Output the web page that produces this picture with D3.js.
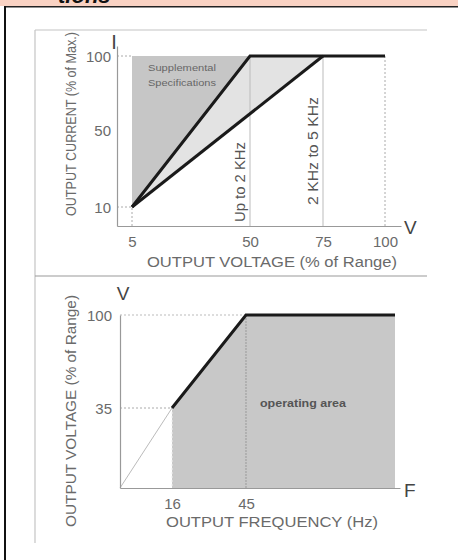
<!DOCTYPE html>
<html>
<head>
<meta charset="utf-8">
<script src="https://cdn.jsdelivr.net/npm/d3@7"></script>
<style>
  html, body { margin: 0; padding: 0; background: #fff; }
  svg { display: block; }
  text { font-family: "Liberation Sans", Arial, sans-serif; }
</style>
</head>
<body>
<div id="chart"></div>
<script>
// top chart: output current vs output voltage
const topTicksX = [5, 50, 75, 100];
const topTicksY = [10, 50, 100];
const supplementalArea = [[5, 10], [5, 100], [50, 100]];
const band2to5k = [[5, 10], [50, 100], [75, 100]];
const limitUpTo2k = [[5, 10], [50, 100], [100, 100]];
const limit2to5k = [[5, 10], [75, 100]];

// bottom chart: output voltage vs output frequency
const botTicksX = [16, 45];
const botTicksY = [35, 100];
const operatingArea = [[16, 0], [16, 35], [45, 100], [100, 100], [100, 0]];
const operatingEdge = [[16, 35], [45, 100], [100, 100]];
const belowMinLine = [[0, 0], [16, 35]];

const W = 458, H = 560;
const svg = d3.select('#chart').append('svg')
  .attr('xmlns', 'http://www.w3.org/2000/svg')
  .attr('width', W)
  .attr('height', H);

svg.append('rect').attr('width', W).attr('height', H).attr('fill', '#fff');

// page decoration: pink header strip, cut-off heading, borders
svg.append('rect').attr('x', 0).attr('y', 0).attr('width', W).attr('height', 6).attr('fill', '#f9d2c3');
svg.append('text').attr('x', 58).attr('y', 3)
  .attr('font-size', 22).attr('font-style', 'italic').attr('font-weight', 'bold')
  .attr('fill', '#111').text('tions');
svg.append('rect').attr('x', 4).attr('y', 6).attr('width', W - 4).attr('height', 1.5).attr('fill', '#222');
svg.append('rect').attr('x', 4).attr('y', 6).attr('width', 2).attr('height', H - 6).attr('fill', '#111');

// gray frame of the figure
const frame = svg.append('g').attr('stroke', '#c4c4c4').attr('stroke-width', 1.2).attr('fill', 'none');
frame.append('line').attr('x1', 35).attr('x2', 427).attr('y1', 30).attr('y2', 30);
frame.append('line').attr('x1', 35).attr('x2', 35).attr('y1', 30).attr('y2', 543);
frame.append('line').attr('x1', 35).attr('x2', 427).attr('y1', 276).attr('y2', 276).attr('stroke', '#999');

const textGray = '#6a6a6a';

// ---------- top chart ----------
const x1 = d3.scaleLinear().domain([0, 5, 50, 75, 100, 106]).range([117, 132, 250, 323, 385, 401]);
const y1 = d3.scaleLinear().domain([0, 10, 50, 100, 107]).range([226, 207, 130, 56, 46]);
const line1 = d3.line().x(d => x1(d[0])).y(d => y1(d[1]));

const g1 = svg.append('g');

g1.append('path').attr('d', line1(supplementalArea) + 'Z').attr('fill', '#c6c6c6');
g1.append('path').attr('d', line1(band2to5k) + 'Z').attr('fill', '#e3e3e3');

// guide lines
const guides1 = g1.append('g').attr('fill', 'none');
guides1.append('path').attr('d', line1([[0, 10], [5, 10], [5, 0]]))
  .attr('stroke', '#aaa').attr('stroke-dasharray', '2,2');
guides1.append('path').attr('d', line1([[0, 100], [5, 100]]))
  .attr('stroke', '#aaa').attr('stroke-dasharray', '2,2');
guides1.append('path').attr('d', line1([[100, 100], [100, 0]]))
  .attr('stroke', '#aaa').attr('stroke-dasharray', '2,2');
[50, 75].forEach(v => {
  guides1.append('path').attr('d', line1([[v, 100], [v, 0]])).attr('stroke', '#bbb');
});

// axes
const ax1 = g1.append('g').attr('transform', `translate(0,${y1(0)})`)
  .call(d3.axisBottom(x1).tickValues(topTicksX).tickSize(0).tickPadding(10).tickSizeOuter(0));
const ay1 = g1.append('g').attr('transform', `translate(${x1(0)},0)`)
  .call(d3.axisLeft(y1).tickValues(topTicksY).tickSize(0).tickPadding(6).tickSizeOuter(0));
[ax1, ay1].forEach(a => {
  a.select('.domain').attr('stroke', '#999').attr('stroke-width', 1.2);
  a.selectAll('text').attr('font-size', 15).attr('fill', textGray)
    .attr('font-family', '"Liberation Sans", Arial, sans-serif');
});
ax1.selectAll('text').attr('dy', '0.71em');
ay1.selectAll('text').attr('dy', '0.35em');

// limit lines
g1.append('path').attr('d', line1(limitUpTo2k)).attr('fill', 'none')
  .attr('stroke', '#1a1a1a').attr('stroke-width', 3);
g1.append('path').attr('d', line1(limit2to5k)).attr('fill', 'none')
  .attr('stroke', '#1a1a1a').attr('stroke-width', 3);

// annotations
g1.append('text').attr('x', 148).attr('y', 71).attr('font-size', 9).attr('fill', '#666')
  .attr('textLength', 68).attr('lengthAdjust', 'spacingAndGlyphs').text('Supplemental');
g1.append('text').attr('x', 148).attr('y', 86).attr('font-size', 9).attr('fill', '#666')
  .attr('textLength', 68).attr('lengthAdjust', 'spacingAndGlyphs').text('Specifications');
g1.append('text').attr('transform', `translate(${x1(50) - 5},${y1(0) - 4}) rotate(-90)`)
  .attr('font-size', 14).attr('fill', '#555')
  .attr('textLength', 80).attr('lengthAdjust', 'spacingAndGlyphs').text('Up to 2 KHz');
g1.append('text').attr('transform', `translate(${x1(75) - 5},${y1(0) - 21}) rotate(-90)`)
  .attr('font-size', 14).attr('fill', '#555')
  .attr('textLength', 108).attr('lengthAdjust', 'spacingAndGlyphs').text('2 KHz to 5 KHz');

g1.append('text').attr('x', 272).attr('y', 267).attr('text-anchor', 'middle')
  .attr('font-size', 14).attr('fill', textGray)
  .attr('textLength', 250).attr('lengthAdjust', 'spacingAndGlyphs').text('OUTPUT VOLTAGE (% of Range)');
g1.append('text').attr('transform', 'translate(76,124) rotate(-90)').attr('text-anchor', 'middle')
  .attr('font-size', 14).attr('fill', textGray)
  .attr('textLength', 184).attr('lengthAdjust', 'spacingAndGlyphs').text('OUTPUT CURRENT (% of Max.)');

g1.append('text').attr('x', 114).attr('y', 49).attr('text-anchor', 'middle')
  .attr('font-family', '"Liberation Serif", serif').attr('font-size', 20).attr('fill', '#444').text('I');
g1.append('text').attr('x', 404).attr('y', 234)
  .attr('font-size', 19).attr('fill', '#444').text('V');

// ---------- bottom chart ----------
const x2 = d3.scaleLinear().domain([0, 16, 45, 100, 104]).range([120, 172, 246, 395, 400]);
const y2 = d3.scaleLinear().domain([0, 35, 100]).range([488, 408, 315]);
const line2 = d3.line().x(d => x2(d[0])).y(d => y2(d[1]));

const g2 = svg.append('g');

g2.append('path').attr('d', line2(operatingArea) + 'Z').attr('fill', '#c8c8c8');

const guides2 = g2.append('g').attr('fill', 'none');
guides2.append('path').attr('d', line2([[0, 35], [16, 35]]))
  .attr('stroke', '#aaa').attr('stroke-dasharray', '2,2');
guides2.append('path').attr('d', line2([[0, 100], [45, 100]]))
  .attr('stroke', '#bbb').attr('stroke-dasharray', '2,2');
guides2.append('path').attr('d', line2([[16, 35], [16, 0]]))
  .attr('stroke', '#eee').attr('stroke-dasharray', '2,2');
guides2.append('path').attr('d', line2([[45, 100], [45, 0]]))
  .attr('stroke', '#999').attr('stroke-dasharray', '2,1');
guides2.append('path').attr('d', line2(belowMinLine)).attr('stroke', '#bbb');

const ax2 = g2.append('g').attr('transform', `translate(0,${y2(0)})`)
  .call(d3.axisBottom(x2).tickValues(botTicksX).tickSize(0).tickPadding(10).tickSizeOuter(0));
const ay2 = g2.append('g').attr('transform', `translate(${x2(0)},0)`)
  .call(d3.axisLeft(y2).tickValues(botTicksY).tickSize(0).tickPadding(8).tickSizeOuter(0));
[ax2, ay2].forEach(a => {
  a.select('.domain').attr('stroke', '#999').attr('stroke-width', 1.2);
  a.selectAll('text').attr('font-size', 15).attr('fill', textGray)
    .attr('font-family', '"Liberation Sans", Arial, sans-serif');
});
ax2.selectAll('text').attr('dy', '0.71em');
ay2.selectAll('text').attr('dy', '0.35em');

g2.append('path').attr('d', line2(operatingEdge)).attr('fill', 'none')
  .attr('stroke', '#1a1a1a').attr('stroke-width', 3);

g2.append('text').attr('x', 260).attr('y', 407).attr('font-size', 10).attr('font-weight', 'bold')
  .attr('fill', '#555').attr('textLength', 86).attr('lengthAdjust', 'spacingAndGlyphs').text('operating area');

g2.append('text').attr('x', 272).attr('y', 527).attr('text-anchor', 'middle')
  .attr('font-size', 14).attr('fill', textGray)
  .attr('textLength', 212).attr('lengthAdjust', 'spacingAndGlyphs').text('OUTPUT FREQUENCY (Hz)');
g2.append('text').attr('transform', 'translate(76,411) rotate(-90)').attr('text-anchor', 'middle')
  .attr('font-size', 14).attr('fill', textGray)
  .attr('textLength', 232).attr('lengthAdjust', 'spacingAndGlyphs').text('OUTPUT VOLTAGE (% of Range)');

g2.append('text').attr('x', 123).attr('y', 300).attr('text-anchor', 'middle')
  .attr('font-size', 19).attr('fill', '#444').text('V');
g2.append('text').attr('x', 404).attr('y', 497)
  .attr('font-size', 19).attr('fill', '#444').text('F');
</script>
</body>
</html>
